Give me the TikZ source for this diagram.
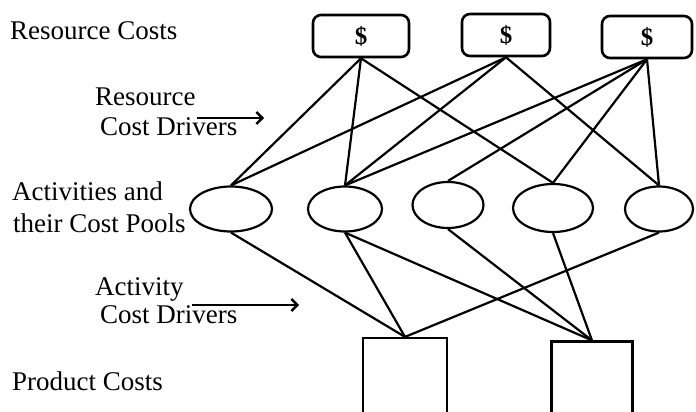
\documentclass[tikz,border=0pt]{standalone}
\usepackage{fontspec}
\setmainfont{Liberation Serif}
\usetikzlibrary{arrows.meta,shapes.geometric}

\tikzset{
    costbox/.style={draw, rounded corners=8pt, line width=2.6pt, inner sep=0pt,
        minimum width=96pt, minimum height=42pt,
        font=\fontsize{25}{28}\selectfont\bfseries},
    pool/.style={draw, ellipse, line width=2.2pt, inner sep=0pt, minimum height=45pt},
    product/.style={draw, rectangle, line width=2.2pt, inner sep=0pt},
    caption/.style={anchor=base west, inner sep=0pt, font=\fontsize{27}{32}\selectfont},
    link/.style={line width=2.2pt},
    driver/.style={line width=1.5pt, -{Straight Barb[length=6pt,width=12pt,line width=2.4pt]}}
}

\begin{document}
\begin{tikzpicture}[x=1pt,y=-1pt]
        \useasboundingbox (0,0) rectangle (696,412);

        \node[costbox] (R1) at (361,36) {\$};
        \node[costbox, minimum width=88pt] (R2) at (506,35) {\$};
        \node[costbox, minimum width=90pt] (R3) at (647,37) {\$};

        \node[pool, minimum width=82pt] (A1) at (231,209) {};
        \node[pool, minimum width=74pt] (A2) at (345,209) {};
        \node[pool, minimum width=71pt, minimum height=46pt] (A3) at (448,205) {};
        \node[pool, minimum width=80pt, minimum height=48pt] (A4) at (553,208) {};
        \node[pool, minimum width=68pt] (A5) at (659,209) {};

        \node[product, minimum width=84pt, minimum height=78pt] (P1) at (405,377) {};
        \node[product, minimum width=81pt, minimum height=75pt] (P2) at (592,379) {};

        %%%
        \draw[link] (R1.south) -- (A1.north);
        \draw[link] (R1.south) -- (A2.north);
        \draw[link] (R1.south) -- (A4.north);

        \draw[link] (R2.south) -- (A1.north);
        \draw[link] (R2.south) -- (A2.north);
        \draw[link] (R2.south) -- (A5.north);

        \draw[link] (R3.south) -- (A2.north);
        \draw[link] (R3.south) -- (A3.north);
        \draw[link] (R3.south) -- (A4.north);
        \draw[link] (R3.south) -- (A5.north);

        %%%
        \draw[link] (A1.south) -- (P1.north);
        \draw[link] (A2.south) -- (P1.north);
        \draw[link] (A5.south) -- (P1.north);

        \draw[link] (A2.south) -- (P2.north);
        \draw[link] (A3.south) -- (P2.north);
        \draw[link] (A4.south) -- (P2.north);

        %%%
        \node[caption] (rc) at (10,40) {Resource Costs};
        \node[caption] (rd1) at (95,105) {Resource};
        \node[caption] (rd2) at (100,135) {Cost Drivers};
        \node[caption] (ac1) at (12,200) {Activities and};
        \node[caption] (ac2) at (13,232) {their Cost Pools};
        \node[caption] (ad1) at (95,295) {Activity};
        \node[caption] (ad2) at (100,323) {Cost Drivers};
        \node[caption] (pc) at (12,390) {Product Costs};

        \coordinate (D1) at (197,118);
        \coordinate (D2) at (264,118);
        \coordinate (D3) at (192,305);
        \coordinate (D4) at (299,305);

        \draw[driver] (D1) -- (D2);
        \draw[driver] (D3) -- (D4);
    \end{tikzpicture}
\end{document}
